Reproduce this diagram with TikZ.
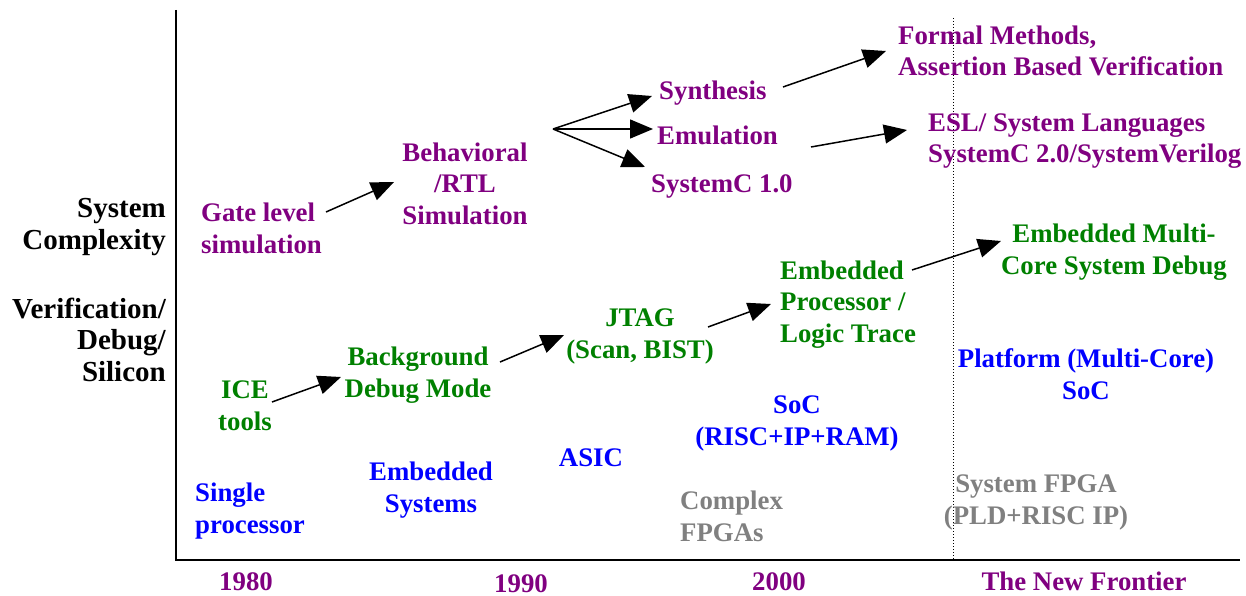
\documentclass[tikz,border=0pt]{standalone}
\usepackage{fontspec}
\setmainfont{Liberation Serif}
\usetikzlibrary{arrows.meta}
\definecolor{cpurple}{RGB}{128,0,128}
\definecolor{cgreen}{RGB}{0,128,0}
\definecolor{cblue}{RGB}{0,0,255}
\definecolor{cgray}{RGB}{128,128,128}
\begin{document}
\begin{tikzpicture}[x=1pt,y=-1pt,
  lbl/.style={inner sep=0pt,font=\fontsize{26.8}{31.5}\selectfont\bfseries},
  big/.style={font=\fontsize{29}{31.5}\selectfont\bfseries},
  lw/.style={lbl,anchor=base west,align=left},
  lc/.style={lbl,anchor=base,align=center},
  le/.style={lbl,big,anchor=base east,align=right},
  pur/.style={text=cpurple}, grn/.style={text=cgreen},
  blu/.style={text=cblue}, gry/.style={text=cgray},
  arr/.style={line width=1.5pt,-{Triangle[length=23pt,width=19pt]}},
  axis/.style={line width=1.8pt}]
\useasboundingbox (0,0) rectangle (1246,596);
% axes
\coordinate (ytop) at (176,10);
\coordinate (orig) at (176,560);
\coordinate (xend) at (1240,560);
\coordinate (dtop) at (953,18);
\coordinate (dbot) at (953,560);
\draw[axis] (ytop) -- (orig) -- (xend);
\draw[dotted,line width=1pt] (dtop) -- (dbot);
% left labels (anchored at the baseline of the last line)
\node[le] (sysc) at (166,249) {System\\Complexity};
\node[le] (verif) at (166,381) {Verification/\\Debug/\\Silicon};
% purple
\node[lw,pur] (gate) at (201,253) {Gate level\\simulation};
\node[lc,pur] (behav) at (465,224) {Behavioral\\/RTL\\Simulation};
\node[lw,pur] (synth) at (659,100) {Synthesis};
\node[lw,pur] (emul) at (657,145) {Emulation};
\node[lw,pur] (scone) at (651,192) {SystemC 1.0};
\node[lw,pur] (formal) at (898,76) {Formal Methods,\\Assertion Based Verification};
\node[lw,pur] (esl) at (928,163) {ESL/ System Languages\\SystemC 2.0/SystemVerilog};
% green
\node[lc,grn] (emc) at (1114,274) {Embedded Multi-\\Core System Debug};
\node[lw,grn] (ept) at (780,342) {Embedded\\Processor /\\Logic Trace};
\node[lc,grn] (jtag) at (640,358) {JTAG\\(Scan, BIST)};
\node[lc,grn] (bdm) at (418,397) {Background\\Debug Mode};
\node[lc,grn] (ice) at (245,430) {ICE\\tools};
% blue
\node[lc,blu] (plat) at (1086,399) {Platform (Multi-Core)\\SoC};
\node[lc,blu] (soc) at (797,445) {SoC\\(RISC+IP+RAM)};
\node[lc,blu] (asic) at (591,466) {ASIC};
\node[lc,blu] (embs) at (431,512) {Embedded\\Systems};
\node[lw,blu] (single) at (195,533) {Single\\processor};
% gray
\node[lw,gry] (cfpga) at (680,541) {Complex\\FPGAs};
\node[lc,gry] (sfpga) at (1036,524) {System FPGA\\(PLD+RISC IP)};
% years
\node[lc,pur] (y80) at (246,590) {1980};
\node[lc,pur] (y90) at (521,592) {1990};
\node[lc,pur] (y00) at (779,590) {2000};
\node[lc,pur] (ynf) at (1084,590) {The New Frontier};
% arrow end points
\coordinate (a1s) at (326,212); \coordinate (a1e) at (394,182);
\coordinate (fan) at (553,129);
\coordinate (a2e) at (652,96); \coordinate (a3e) at (653,129); \coordinate (a4e) at (645,167);
\coordinate (a5s) at (783,87); \coordinate (a5e) at (886,51);
\coordinate (a6s) at (811,147); \coordinate (a6e) at (907,130);
\coordinate (a7s) at (272,402); \coordinate (a7e) at (341,377);
\coordinate (a8s) at (500,362); \coordinate (a8e) at (564,335);
\coordinate (a9s) at (708,327); \coordinate (a9e) at (771,304);
\coordinate (a10s) at (912,270); \coordinate (a10e) at (1001,241);
\draw[arr] (a1s) -- (a1e);
\draw[arr] (fan) -- (a2e);
\draw[arr] (fan) -- (a3e);
\draw[arr] (fan) -- (a4e);
\draw[arr] (a5s) -- (a5e);
\draw[arr] (a6s) -- (a6e);
\draw[arr] (a7s) -- (a7e);
\draw[arr] (a8s) -- (a8e);
\draw[arr] (a9s) -- (a9e);
\draw[arr] (a10s) -- (a10e);
\end{tikzpicture}
\end{document}
